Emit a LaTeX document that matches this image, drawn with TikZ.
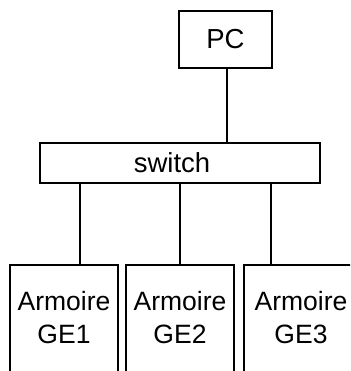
\documentclass[tikz,border=0pt]{standalone}
\usepackage{fontspec}
\setmainfont{Liberation Sans}
\begin{document}
\begin{tikzpicture}[x=1pt,y=-1pt,
  box/.style={draw=black,line width=1.1pt,rectangle,inner sep=0pt,outer sep=0pt,
    font=\fontsize{27.5}{33}\selectfont},
  cab/.style={rectangle,inner sep=0pt,outer sep=0pt,align=center,
    font=\fontsize{26.5}{33}\selectfont},
  cabline/.style={line width=1.1pt},
  wire/.style={draw=black,line width=1.4pt},
  thickwire/.style={draw=black,line width=2.2pt}]
\useasboundingbox (0,0) rectangle (350,371);
\clip (0,0) rectangle (350,371);
\node[box,minimum width=93pt,minimum height=57pt] (pc) at (225.5,39.5) {PC};
\node[box,minimum width=280pt,minimum height=40pt] (sw) at (180,163) {\hspace*{-16pt}switch};
\node[cab,minimum width=108pt,minimum height=106pt] (ge1) at (64,318) {Armoire\\GE1};
\node[cab,minimum width=108pt,minimum height=106pt] (ge2) at (180,318) {Armoire\\GE2};
\node[cab,minimum width=114pt,minimum height=106pt] (ge3) at (301,318) {Armoire\\GE3};
\draw[cabline] (ge1.south west) |- (ge1.north east) -- (ge1.south east);
\draw[cabline] (ge2.south west) |- (ge2.north east) -- (ge2.south east);
\draw[cabline] (ge3.south west) |- (ge3.north east) -- (ge3.south east);
\coordinate (c0) at (227,0);
\coordinate (c1) at (80,0);
\coordinate (c2) at (180,0);
\coordinate (c3) at (271,0);
\draw[wire] (pc.south -| c0) -- (sw.north -| c0);
\draw[thickwire] (sw.south -| c1) -- (ge1.north -| c1);
\draw[wire] (sw.south -| c2) -- (ge2.north -| c2);
\draw[wire] (sw.south -| c3) -- (ge3.north -| c3);
\end{tikzpicture}
\end{document}
